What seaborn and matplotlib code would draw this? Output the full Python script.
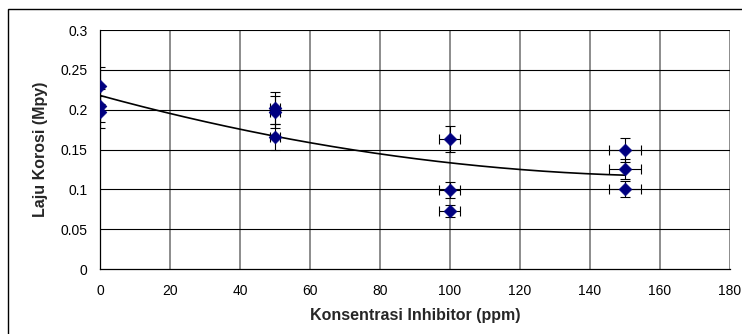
import numpy as np
import pandas as pd
import seaborn as sns
import matplotlib.pyplot as plt
from matplotlib.patches import Rectangle

# data
konsentrasi = [0, 0, 0, 50, 50, 50, 100, 100, 100, 150, 150, 150]
laju_korosi = [0.230, 0.205, 0.197, 0.202, 0.197, 0.166,
               0.163, 0.099, 0.073, 0.149, 0.125, 0.101]
x_ticks = [0, 20, 40, 60, 80, 100, 120, 140, 160, 180]
y_ticks = [0, 0.05, 0.1, 0.15, 0.2, 0.25, 0.3]

df = pd.DataFrame({"Konsentrasi": konsentrasi, "Laju": laju_korosi})
df["xerr"] = df["Konsentrasi"] * 0.03
df["yerr"] = df["Laju"] * 0.10

sns.set_style("white")
plt.rcParams["font.family"] = ["Liberation Sans", "DejaVu Sans"]

fig = plt.figure(figsize=(7.42, 3.34), dpi=100)
ax = fig.add_axes([0.1348, 0.1946, 0.8490, 0.7154])

# outer chart border (only top/left visible in the crop)
fig.patches.append(Rectangle((8 / 742, -0.1), 1.2, 1.1 - 9 / 334,
                             transform=fig.transFigure, fill=False,
                             edgecolor="black", linewidth=1.0))

# grid
for xv in x_ticks[1:]:
    ax.axvline(xv, color="#6e6e6e", linewidth=1.1, zorder=0)
for yv in y_ticks[1:]:
    ax.axhline(yv, color="black", linewidth=0.8, zorder=0)

# error bars
ax.errorbar(df["Konsentrasi"], df["Laju"], xerr=df["xerr"], yerr=df["yerr"],
            fmt="none", ecolor="black", elinewidth=0.8, capsize=3.5, capthick=0.8,
            zorder=2)

# trendline (2nd order polynomial)
coef = np.polyfit(df["Konsentrasi"], df["Laju"], 2)
xs = np.linspace(0, 150, 200)
trend = pd.DataFrame({"x": xs, "y": np.polyval(coef, xs)})
sns.lineplot(data=trend, x="x", y="y", ax=ax, color="black", linewidth=1.2, zorder=3)

sns.scatterplot(data=df, x="Konsentrasi", y="Laju", ax=ax, marker="D", s=42,
                color="#000080", edgecolor="#000080", linewidth=0.5, zorder=4)

ax.set_xlim(0, 180)
ax.set_ylim(0, 0.3)
ax.set_xticks(x_ticks)
ax.set_yticks(y_ticks)
ax.set_xticklabels([str(v) for v in x_ticks])
ax.set_yticklabels(["0", "0.05", "0.1", "0.15", "0.2", "0.25", "0.3"])
ax.tick_params(axis="both", labelsize=10, direction="out", length=4, width=0.8,
               colors="black", pad=5)
ax.tick_params(axis="x", pad=7)

for side in ["top", "right"]:
    ax.spines[side].set_visible(False)
for side in ["left", "bottom"]:
    ax.spines[side].set_color("black")
    ax.spines[side].set_linewidth(0.9)

ax.set_xlabel("Konsentrasi Inhibitor (ppm)", fontsize=11.5, fontweight="bold", labelpad=7)
ax.set_ylabel("Laju Korosi (Mpy)", fontsize=11.5, fontweight="bold", labelpad=9)

fig.savefig("out.png", dpi=100)
